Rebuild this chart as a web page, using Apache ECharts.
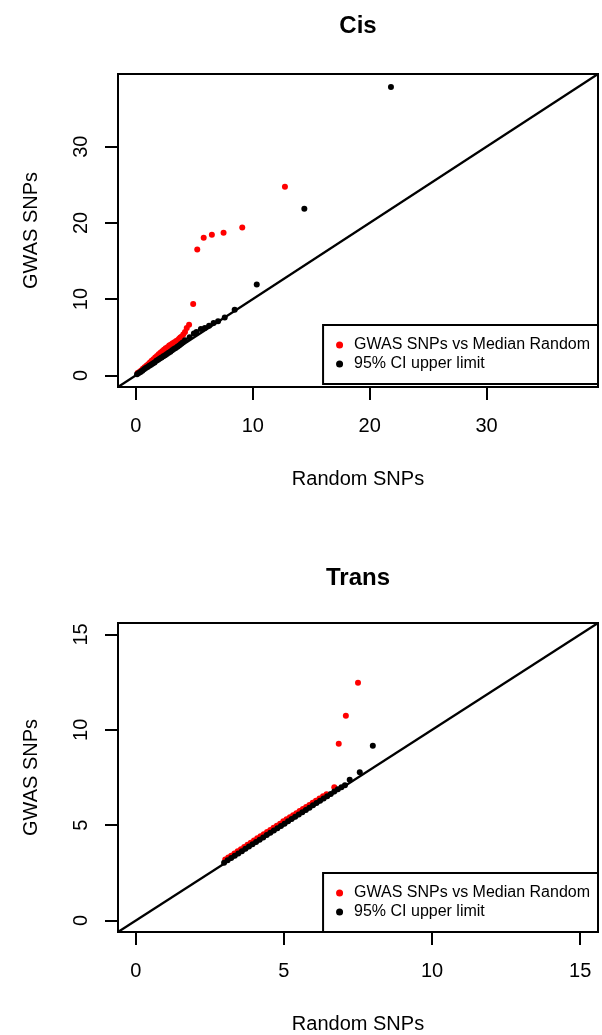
<!DOCTYPE html>
<html>
<head>
<meta charset="utf-8">
<title>Cis / Trans</title>
<script src="https://cdn.jsdelivr.net/npm/echarts@6/dist/echarts.min.js"></script>
<style>
    html, body { margin: 0; padding: 0; background: #fff; }
    #chart { width: 602px; height: 1035px; }
</style>
</head>
<body>
<div id="chart"></div>
<script>
// 坐标范围 (R 默认两端各扩 4%)
const cisRange = [-1.53, 39.53]
const transRange = [-0.6, 15.6]
const cisTicks = [0, 10, 20, 30]
const transTicks = [0, 5, 10, 15]

const legendNames = ['GWAS SNPs vs Median Random', '95% CI upper limit']

// Cis: [Random SNPs, GWAS SNPs]
const cisGwas = [
    [0.15, 0.3], [0.3, 0.45], [0.45, 0.65], [0.6, 0.85], [0.75, 1.05], [0.9, 1.25],
    [1.05, 1.45], [1.2, 1.7], [1.35, 1.9], [1.5, 2.1], [1.65, 2.35], [1.8, 2.55],
    [1.95, 2.75], [2.1, 2.95], [2.25, 3.15], [2.4, 3.35], [2.55, 3.55], [2.7, 3.7],
    [2.85, 3.9], [3.0, 4.05], [3.15, 4.2], [3.3, 4.35], [3.45, 4.5], [3.6, 4.65],
    [3.7, 4.8], [3.8, 4.95], [3.9, 5.05], [4.05, 5.35], [4.2, 5.7], [4.35, 6.2],
    [4.55, 6.65], [4.9, 9.35], [5.25, 16.5], [5.8, 18.05], [6.5, 18.45], [7.5, 18.7],
    [9.1, 19.4], [12.75, 24.75]
]
const cisUpper = [
    [0.1, 0.15], [0.25, 0.3], [0.4, 0.45], [0.55, 0.6], [0.7, 0.8], [0.85, 0.95],
    [1.0, 1.1], [1.15, 1.25], [1.3, 1.4], [1.45, 1.55], [1.6, 1.7], [1.75, 1.9],
    [1.9, 2.05], [2.05, 2.2], [2.2, 2.35], [2.35, 2.5], [2.5, 2.65], [2.65, 2.8],
    [2.8, 2.95], [2.95, 3.1], [3.1, 3.3], [3.25, 3.45], [3.4, 3.6], [3.55, 3.75],
    [3.7, 3.9], [3.85, 4.1], [4.0, 4.3], [4.2, 4.6], [4.6, 5.0], [4.96, 5.5],
    [5.18, 5.67], [5.56, 6.07], [5.9, 6.2], [6.26, 6.51], [6.65, 6.85], [7.03, 7.1],
    [7.6, 7.6], [8.45, 8.6], [10.34, 11.93], [14.41, 21.86], [21.82, 37.82]
]

// Trans
const transGwas = [
    [3.02, 3.2], [3.12, 3.3], [3.22, 3.4], [3.33, 3.52], [3.44, 3.63], [3.55, 3.74],
    [3.66, 3.86], [3.77, 3.97], [3.88, 4.08], [3.99, 4.2], [4.1, 4.31], [4.21, 4.42],
    [4.32, 4.53], [4.43, 4.64], [4.54, 4.75], [4.65, 4.86], [4.76, 4.97], [4.87, 5.08],
    [4.98, 5.2], [5.09, 5.31], [5.2, 5.42], [5.31, 5.52], [5.42, 5.63], [5.53, 5.74],
    [5.64, 5.85], [5.75, 5.95], [5.86, 6.06], [5.97, 6.17], [6.08, 6.28], [6.2, 6.4],
    [6.32, 6.52], [6.44, 6.62], [6.7, 6.99], [6.85, 9.27], [7.09, 10.74], [7.5, 12.47]
]
const transUpper = [
    [2.98, 3.03], [3.1, 3.16], [3.22, 3.28], [3.34, 3.4], [3.46, 3.52], [3.58, 3.64],
    [3.7, 3.76], [3.82, 3.88], [3.94, 4.0], [4.06, 4.12], [4.18, 4.24], [4.3, 4.36],
    [4.42, 4.48], [4.54, 4.6], [4.66, 4.72], [4.78, 4.84], [4.9, 4.96], [5.02, 5.08],
    [5.14, 5.2], [5.26, 5.32], [5.38, 5.44], [5.5, 5.56], [5.62, 5.68], [5.74, 5.8],
    [5.86, 5.92], [5.98, 6.04], [6.1, 6.16], [6.22, 6.28], [6.34, 6.4], [6.46, 6.52],
    [6.58, 6.64], [6.7, 6.76], [6.82, 6.88], [6.94, 6.99], [7.06, 7.09], [7.22, 7.38],
    [7.56, 7.78], [8.0, 9.17]
]

const FONT = 'Liberation Sans, Arial, Helvetica, sans-serif'

function xAxisOf(gridIndex, range, ticks) {
    return {
        gridIndex: gridIndex,
        type: 'value',
        min: range[0],
        max: range[1],
        name: 'Random SNPs',
        nameLocation: 'middle',
        nameGap: 82,
        nameTextStyle: { fontFamily: FONT, fontSize: 20, color: '#000' },
        axisLine: { show: false, onZero: false },
        splitLine: { show: false },
        axisTick: { show: true, length: 13, customValues: ticks, lineStyle: { color: '#000', width: 2 } },
        axisLabel: { customValues: ticks, margin: 29, fontFamily: FONT, fontSize: 20, color: '#000' }
    }
}

function yAxisOf(gridIndex, range, ticks) {
    return {
        gridIndex: gridIndex,
        type: 'value',
        min: range[0],
        max: range[1],
        name: 'GWAS SNPs',
        nameLocation: 'middle',
        nameGap: 77,
        nameTextStyle: { fontFamily: FONT, fontSize: 20, color: '#000' },
        axisLine: { show: false, onZero: false },
        splitLine: { show: false },
        axisTick: { show: true, length: 13, customValues: ticks, lineStyle: { color: '#000', width: 2 } },
        axisLabel: { customValues: ticks, rotate: 90, margin: 27, fontFamily: FONT, fontSize: 20, color: '#000' }
    }
}

function legendOf(top) {
    return {
        data: legendNames,
        orient: 'vertical',
        right: 4,
        top: top,
        padding: [12, 8, 12, 13],
        itemGap: 3,
        itemWidth: 7,
        itemHeight: 17,
        borderColor: '#000',
        borderWidth: 2,
        backgroundColor: '#fff',
        selectedMode: false,
        textStyle: { fontFamily: FONT, fontSize: 16, color: '#000', padding: [0, 0, 0, 6] }
    }
}

function diagonal(idx, range) {
    return {
        type: 'line',
        xAxisIndex: idx,
        yAxisIndex: idx,
        data: [[range[0], range[0]], [range[1], range[1]]],
        showSymbol: false,
        silent: true,
        lineStyle: { color: '#000', width: 2.2 },
        z: 1
    }
}

function points(idx, name, data, color) {
    return {
        type: 'scatter',
        name: name,
        xAxisIndex: idx,
        yAxisIndex: idx,
        data: data,
        symbol: 'circle',
        symbolSize: 6,
        itemStyle: { color: color, opacity: 1 },
        z: 3
    }
}

var myChart = echarts.init(document.getElementById('chart'))

var option = {
    animation: false,
    backgroundColor: '#fff',
    title: [
        { text: 'Cis', left: 358, top: 14, textAlign: 'center', padding: 0,
          textStyle: { fontFamily: FONT, fontSize: 24, fontWeight: 'bold', color: '#000' } },
        { text: 'Trans', left: 358, top: 566, textAlign: 'center', padding: 0,
          textStyle: { fontFamily: FONT, fontSize: 24, fontWeight: 'bold', color: '#000' } }
    ],
    grid: [
        { left: 118, top: 74, width: 480, height: 313, show: true, borderColor: '#000', borderWidth: 2, backgroundColor: 'transparent' },
        { left: 118, top: 623, width: 480, height: 312, show: true, borderColor: '#000', borderWidth: 2, backgroundColor: 'transparent' }
    ],
    xAxis: [xAxisOf(0, cisRange, cisTicks), xAxisOf(1, transRange, transTicks)],
    yAxis: [yAxisOf(0, cisRange, cisTicks), yAxisOf(1, transRange, transTicks)],
    legend: [legendOf(325), legendOf(873)],
    series: [
        diagonal(0, cisRange),
        points(0, legendNames[0], cisGwas, '#ff0000'),
        points(0, legendNames[1], cisUpper, '#000000'),
        diagonal(1, transRange),
        points(1, legendNames[0], transGwas, '#ff0000'),
        points(1, legendNames[1], transUpper, '#000000')
    ]
}

myChart.setOption(option)
</script>
</body>
</html>
